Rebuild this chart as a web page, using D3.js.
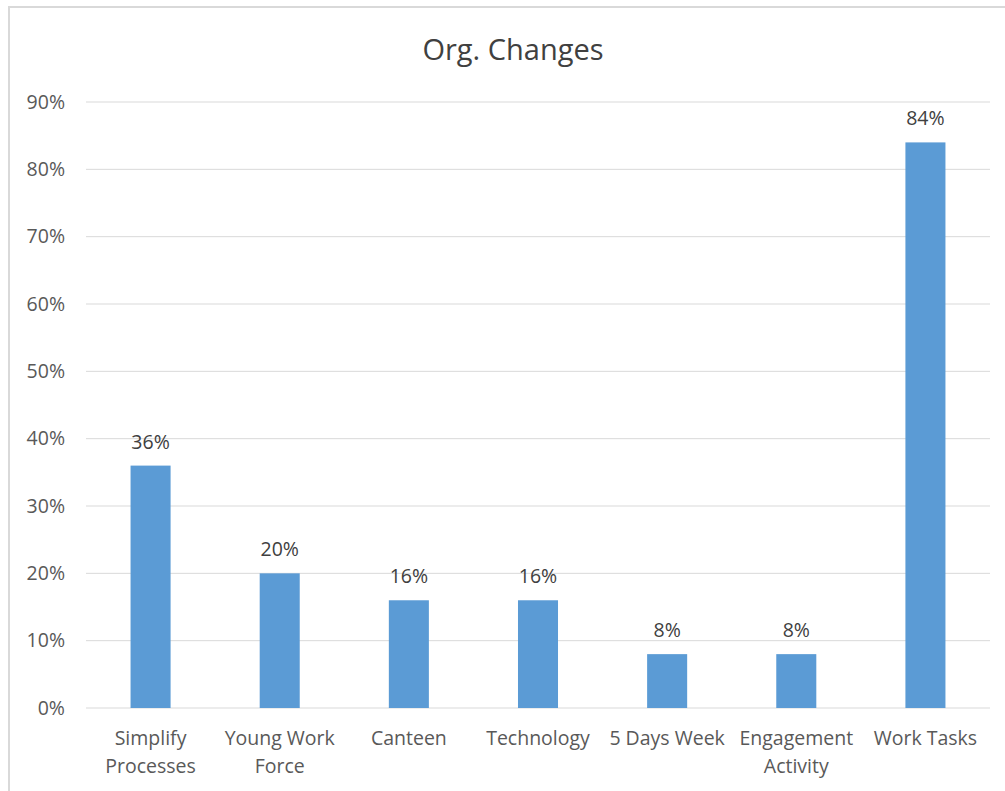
<!DOCTYPE html>
<html>
<head>
<meta charset="utf-8">
<script src="https://cdn.jsdelivr.net/npm/d3@7"></script>
<style>
  html, body { margin: 0; padding: 0; background: #fff; }
  svg { display: block; }
  text { font-family: "Open Sans", "Noto Sans", sans-serif; }
</style>
</head>
<body>
<svg id="chart" width="1005" height="791"></svg>
<script>
// Chart data
const categories = [
  ["Simplify", "Processes"],
  ["Young Work", "Force"],
  ["Canteen"],
  ["Technology"],
  ["5 Days Week"],
  ["Engagement", "Activity"],
  ["Work Tasks"]
];
const values = [0.36, 0.20, 0.16, 0.16, 0.08, 0.08, 0.84];
const yTicks = [0, 0.1, 0.2, 0.3, 0.4, 0.5, 0.6, 0.7, 0.8, 0.9];
const chartTitle = "Org. Changes";

const svg = d3.select("#chart");
const W = 1005, H = 791;
const plot = { left: 86, right: 990, top: 102, bottom: 708 };
const labelSize = "19.5px";

// Chart frame (only top and left edges fall inside the view)
svg.append("rect")
  .attr("x", 9).attr("y", 7)
  .attr("width", W + 20).attr("height", H + 20)
  .attr("fill", "#fff")
  .attr("stroke", "#d9d9d9").attr("stroke-width", 2);

const labels = categories.map(c => c.join(" "));

const x = d3.scaleBand()
  .domain(labels)
  .range([plot.left, plot.right])
  .paddingInner(0.69)
  .paddingOuter(0.345);

const y = d3.scaleLinear()
  .domain([0, 0.9])
  .range([plot.bottom, plot.top]);

// Gridlines
svg.append("g")
  .selectAll("line")
  .data(yTicks)
  .join("line")
  .attr("x1", plot.left).attr("x2", plot.right)
  .attr("y1", d => y(d)).attr("y2", d => y(d))
  .attr("stroke", "#d9d9d9").attr("stroke-width", 1);

// Y axis labels
const yAxis = d3.axisLeft(y)
  .tickValues(yTicks)
  .tickFormat(d3.format(".0%"))
  .tickSize(0)
  .tickPadding(21);
const gy = svg.append("g")
  .attr("transform", `translate(${plot.left},0)`)
  .call(yAxis);
gy.select(".domain").remove();
gy.selectAll("text")
  .attr("fill", "#595959")
  .style("font-size", labelSize)
  .style("font-family", "'Open Sans', sans-serif");

// Bars
svg.append("g")
  .selectAll("rect")
  .data(values)
  .join("rect")
  .attr("x", (d, i) => x(labels[i]))
  .attr("width", x.bandwidth())
  .attr("y", d => y(d))
  .attr("height", d => y(0) - y(d))
  .attr("fill", "#5b9bd5");

// Value labels
svg.append("g")
  .selectAll("text")
  .data(values)
  .join("text")
  .attr("x", (d, i) => x(labels[i]) + x.bandwidth() / 2)
  .attr("y", d => y(d) - 17)
  .attr("text-anchor", "middle")
  .attr("fill", "#404040")
  .style("font-size", labelSize)
  .text(d => d3.format(".0%")(d));

// Category labels
const xl = svg.append("g")
  .selectAll("text")
  .data(categories)
  .join("text")
  .attr("x", (d, i) => x(labels[i]) + x.bandwidth() / 2)
  .attr("y", 745)
  .attr("text-anchor", "middle")
  .attr("fill", "#595959")
  .style("font-size", labelSize);
xl.selectAll("tspan")
  .data(d => d)
  .join("tspan")
  .attr("x", function() { return d3.select(this.parentNode).attr("x"); })
  .attr("dy", (d, i) => i === 0 ? 0 : 28)
  .text(d => d);

// Title
svg.append("text")
  .attr("x", 513).attr("y", 60)
  .attr("text-anchor", "middle")
  .attr("fill", "#404040")
  .style("font-size", "29px")
  .text(chartTitle);
</script>
</body>
</html>
